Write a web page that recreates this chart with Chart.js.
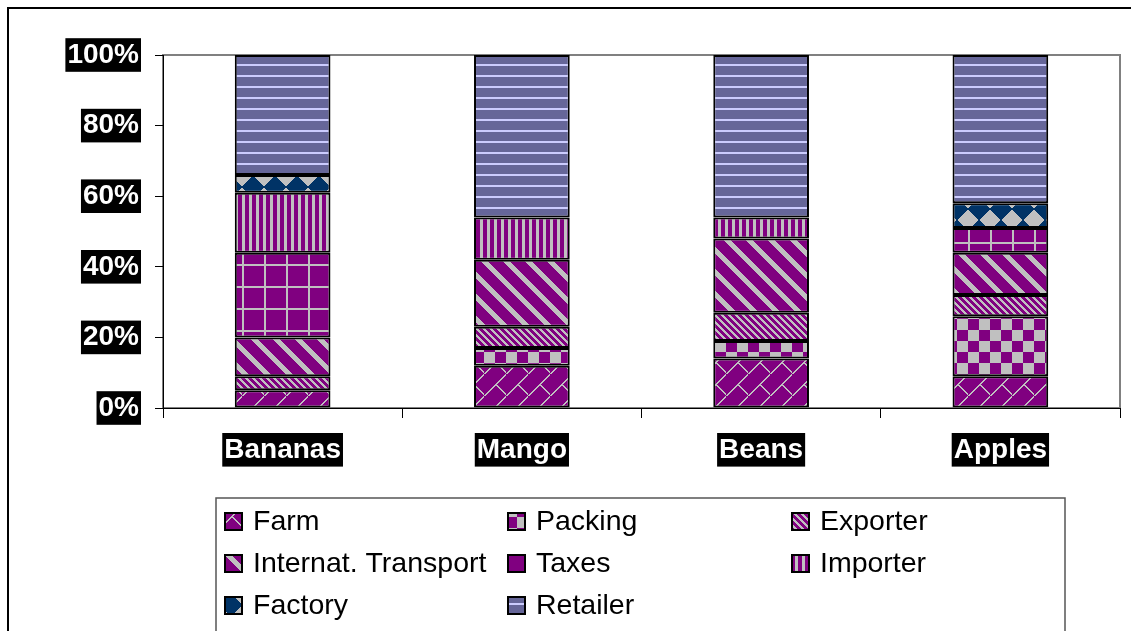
<!DOCTYPE html>
<html>
<head>
<meta charset="utf-8">
<script src="https://cdn.jsdelivr.net/npm/chart.js@4.4.1/dist/chart.umd.min.js"></script>
<style>
  html, body { margin: 0; padding: 0; background: #fff; overflow: hidden; }
  #wrap { width: 1131px; height: 631px; }
</style>
</head>
<body>
<div id="wrap"><canvas id="costChart"></canvas></div>
<script>
// values, share of final price in %
const categories = ['Bananas', 'Mango', 'Beans', 'Apples'];
const seriesNames = ['Farm', 'Packing', 'Exporter', 'Internat. Transport', 'Taxes', 'Importer', 'Factory', 'Retailer'];
const farm      = [5, 12, 14, 9];
const packing   = [0, 5, 5, 17];
const exporter  = [4, 6, 8, 6];
const transport = [11, 19, 21, 12];
const taxes     = [24, 0, 0, 7];
const importer  = [17, 12, 6, 0];
const factory   = [5, 0, 0, 7];
const retailer  = [34, 46, 46, 42];
const yTicks = [0, 20, 40, 60, 80, 100];

const PURPLE = '#800080';
const GRAY = '#C0C0C0';
const NAVY = '#003366';
const SLATE = '#666699';
const LILAC = '#CCCCFF';

const ctx = document.getElementById('costChart').getContext('2d');

// little bitmap tiles turned into canvas patterns (like the old Excel fills)
function tile(w, h, draw) {
    const c = document.createElement('canvas');
    c.width = w;
    c.height = h;
    const g = c.getContext('2d');
    draw(g, w, h);
    return ctx.createPattern(c, 'repeat');
}

const patterns = {
    farm: tile(22, 22, (g) => {
        g.fillStyle = PURPLE; g.fillRect(0, 0, 22, 22);
        g.fillStyle = GRAY;
        for (let i = 0; i < 22; i++) g.fillRect(i, 21 - i, 2, 1);
        for (let i = 0; i < 11; i++) g.fillRect(11 + i, 10 + i, 2, 1);
    }),
    packing: tile(22, 22, (g) => {
        g.fillStyle = PURPLE; g.fillRect(0, 0, 22, 22);
        g.fillStyle = GRAY;
        g.fillRect(0, 0, 11, 11);
        g.fillRect(11, 11, 11, 11);
    }),
    exporter: tile(7, 7, (g) => {
        g.fillStyle = PURPLE; g.fillRect(0, 0, 7, 7);
        g.fillStyle = GRAY;
        for (let i = 0; i < 7; i++) { g.fillRect(i, i, 3, 1); g.fillRect(i - 7, i, 3, 1); }
    }),
    transport: tile(22, 22, (g) => {
        g.fillStyle = PURPLE; g.fillRect(0, 0, 22, 22);
        g.fillStyle = GRAY;
        for (let i = 0; i < 22; i++) { g.fillRect(i, i, 7, 1); g.fillRect(i - 22, i, 7, 1); }
    }),
    taxes: tile(22, 22, (g) => {
        g.fillStyle = PURPLE; g.fillRect(0, 0, 22, 22);
        g.fillStyle = GRAY;
        g.fillRect(0, 0, 22, 2);
        g.fillRect(0, 0, 2, 22);
    }),
    importer: tile(7, 7, (g) => {
        g.fillStyle = PURPLE; g.fillRect(0, 0, 7, 7);
        g.fillStyle = GRAY; g.fillRect(4, 0, 3, 7);
    }),
    factory: tile(22, 22, (g) => {
        g.fillStyle = GRAY; g.fillRect(0, 0, 22, 22);
        g.fillStyle = NAVY;
        for (let y = 0; y < 22; y++) {
            const hw = y < 11 ? y + 1 : 22 - y;
            g.fillRect(11 - hw, y, 2 * hw, 1);
        }
    }),
    retailer: tile(11, 11, (g) => {
        g.fillStyle = SLATE; g.fillRect(0, 0, 11, 11);
        g.fillStyle = LILAC; g.fillRect(0, 9, 11, 2);
    })
};

const seriesValues = [farm, packing, exporter, transport, taxes, importer, factory, retailer];
const seriesFills = [patterns.farm, patterns.packing, patterns.exporter, patterns.transport,
    patterns.taxes, patterns.importer, patterns.factory, patterns.retailer];

// empty shares become null so no zero-height outlined bar is drawn
const datasets = seriesNames.map((name, i) => ({
    label: name,
    data: seriesValues[i].map(v => (v === 0 ? null : v)),
    backgroundColor: seriesFills[i],
    borderColor: '#000',
    borderWidth: 2,
    borderSkipped: false,
    barPercentage: 0.4,
    categoryPercentage: 1
}));

// white page, outer frame and grey plot-area frame
const framePlugin = {
    id: 'framePlugin',
    beforeDraw(chart) {
        const c = chart.ctx;
        const a = chart.chartArea;
        c.save();
        c.fillStyle = '#fff';
        c.fillRect(0, 0, chart.width, chart.height);
        c.strokeStyle = '#000';
        c.lineWidth = 2;
        c.strokeRect(8, 8, chart.width + 10, chart.height + 10);
        c.strokeStyle = '#808080';
        c.lineWidth = 2;
        c.strokeRect(a.left, a.top, a.right - a.left, a.bottom - a.top);
        c.restore();
    }
};

// legend laid out in three columns inside a box, like the original
const boxLegend = {
    id: 'boxLegend',
    afterDraw(chart) {
        const c = chart.ctx;
        const cols = [225, 508, 792];
        const rows = [521, 563, 605];
        c.save();
        c.strokeStyle = '#555';
        c.lineWidth = 1.5;
        c.strokeRect(216, 498, 849, 200);
        c.font = '28.5px "Liberation Sans", Arial, sans-serif';
        c.textBaseline = 'middle';
        chart.data.datasets.forEach((ds, i) => {
            const x = cols[i % 3];
            const y = rows[Math.floor(i / 3)];
            c.fillStyle = ds.backgroundColor;
            c.fillRect(x, y - 8, 17, 17);
            c.strokeStyle = '#000';
            c.lineWidth = 2;
            c.strokeRect(x, y - 8, 17, 17);
            c.fillStyle = '#000';
            c.fillText(ds.label, x + 28, y + 1);
        });
        c.restore();
    }
};

const tickFont = { family: '"Liberation Sans", Arial, sans-serif', size: 28, weight: 'bold' };

new Chart(ctx, {
    type: 'bar',
    data: { labels: categories, datasets: datasets },
    options: {
        responsive: true,
        maintainAspectRatio: false,
        animation: false,
        devicePixelRatio: 1,
        layout: { padding: { top: 55, left: 0, right: 11, bottom: 0 } },
        plugins: {
            legend: { display: false },
            tooltip: { enabled: false }
        },
        scales: {
            x: {
                stacked: true,
                afterFit: (s) => { s.height = 223; },
                border: { color: '#000', width: 1 },
                grid: { offset: true, drawOnChartArea: false, color: '#000', tickLength: 10 },
                ticks: {
                    color: '#fff',
                    font: tickFont,
                    padding: 15,
                    maxRotation: 0,
                    showLabelBackdrop: true,
                    backdropColor: '#000',
                    backdropPadding: { left: 2, right: 2, top: 0, bottom: 0 }
                }
            },
            y: {
                stacked: true,
                min: 0,
                max: 100,
                afterFit: (s) => { s.width = 163; },
                afterBuildTicks: (s) => { s.ticks = yTicks.map(v => ({ value: v })); },
                border: { color: '#000', width: 1 },
                grid: { drawOnChartArea: false, color: '#000', tickLength: 8 },
                ticks: {
                    color: '#fff',
                    font: tickFont,
                    padding: 16,
                    callback: (v) => v + '%',
                    showLabelBackdrop: true,
                    backdropColor: '#000',
                    backdropPadding: { left: 2, right: 2, top: 0, bottom: 0 }
                }
            }
        }
    },
    plugins: [framePlugin, boxLegend]
});
</script>
</body>
</html>
